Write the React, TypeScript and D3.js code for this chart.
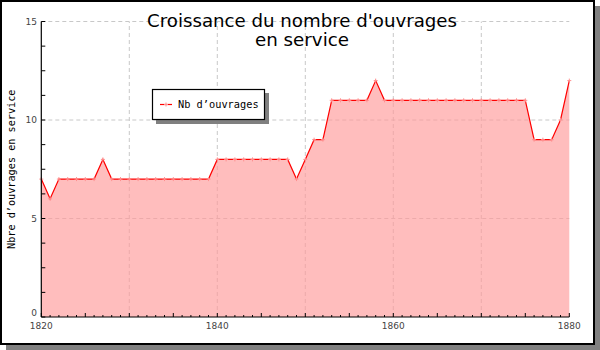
import React from "react";
import * as d3 from "d3";

const years: number[] = d3.range(1820, 1881);
const values: number[] = [
  7, 6, 7, 7, 7, 7, 7, 8, 7, 7,
  7, 7, 7, 7, 7, 7, 7, 7, 7, 7,
  8, 8, 8, 8, 8, 8, 8, 8, 8, 7,
  8, 9, 9, 11, 11, 11, 11, 11, 12, 11,
  11, 11, 11, 11, 11, 11, 11, 11, 11, 11,
  11, 11, 11, 11, 11, 11, 9, 9, 9, 10,
  12,
];
const xTickLabels: number[] = [1820, 1840, 1860, 1880];
const xGrid: number[] = [1830, 1840, 1850, 1860, 1870];
const yTickLabels: number[] = [0, 5, 10, 15];
const titleLines: string[] = ["Croissance du nombre d'ouvrages", "en service"];
const yLabel = "Nbre d\u2019ouvrages en service";
const legendLabel = "Nb d\u2019ouvrages";

export default function App() {
  const W = 600, H = 350;
  const x = d3.scaleLinear().domain([1820, 1880]).range([41.3, 569.3]);
  const y = d3.scaleLinear().domain([0, 15]).range([317, 21.5]);
  const data = years.map((yr, i) => ({ yr, v: values[i] }));
  const area = d3.area<{ yr: number; v: number }>().x(d => x(d.yr)).y0(y(0)).y1(d => y(d.v));
  const line = d3.line<{ yr: number; v: number }>().x(d => x(d.yr)).y(d => y(d.v));
  const yMinor = d3.range(0, 15.01, 1.25);
  const mono = "'DejaVu Sans Mono', monospace";
  const sans = "'DejaVu Sans', sans-serif";
  const titleWidths = [310, 94];
  return (
    <svg width={W} height={H} style={{ position: "absolute", left: 0, top: 0 }}>
      <rect x={0} y={0} width={W} height={H} fill="white" />
      <rect x={6} y={6} width={594} height={344} fill="#808080" />
      <rect x={1} y={1} width={593} height={343} fill="white" stroke="black" strokeWidth={2} />
      {xGrid.map(g => (
        <line key={"gx" + g} x1={x(g)} x2={x(g)} y1={y(0)} y2={y(15)} stroke="#c8c8c8" strokeDasharray="4,3" />
      ))}
      {[5, 10, 15].map(g => (
        <line key={"gy" + g} x1={x(1820)} x2={x(1880)} y1={y(g)} y2={y(g)} stroke="#c8c8c8" strokeDasharray="4,3" />
      ))}
      <path d={area(data) ?? ""} fill="#ff9999" fillOpacity={0.65} />
      <path d={line(data) ?? ""} fill="none" stroke="#ff0000" strokeWidth={1.2} />
      {data.map(d => (
        <g key={"m" + d.yr} stroke="#ff9090" strokeWidth={1}>
          <line x1={x(d.yr) - 2} x2={x(d.yr) + 2} y1={y(d.v)} y2={y(d.v)} />
          <line x1={x(d.yr)} x2={x(d.yr)} y1={y(d.v) - 2} y2={y(d.v) + 2} />
        </g>
      ))}
      <line x1={x(1820)} x2={x(1820)} y1={y(0)} y2={y(15)} stroke="black" strokeWidth={1.2} />
      <line x1={x(1820)} x2={x(1880)} y1={y(0)} y2={y(0)} stroke="black" strokeWidth={1.2} />
      {years.map(yr => (
        <line key={"xt" + yr} x1={x(yr)} x2={x(yr)} y1={y(0)} y2={y(0) - (yr % 5 === 0 ? 4 : 2)} stroke="black" />
      ))}
      {yMinor.map(v => (
        <line key={"yt" + v} x1={x(1820)} x2={x(1820) + 4} y1={y(v)} y2={y(v)} stroke="black" />
      ))}
      {yTickLabels.map(v => (
        <text key={"yl" + v} x={37} y={y(v) + (v === 0 ? -1 : 3)} textAnchor="end" fontFamily={sans} fontSize={9} fill="#444">{v}</text>
      ))}
      {xTickLabels.map(v => (
        <text key={"xl" + v} x={x(v)} y={y(0) + 12} textAnchor="middle" fontFamily={sans} fontSize={9} fill="#444">{v}</text>
      ))}
      {titleLines.map((t, i) => (
        <text key={"t" + i} x={302} y={26.5 + i * 19.5} textAnchor="middle" fontFamily={sans} fontSize={17.5}
          textLength={titleWidths[i]} lengthAdjust="spacingAndGlyphs" fill="black">{t}</text>
      ))}
      <text transform={`translate(15,${y(7.5)}) rotate(-90)`} textAnchor="middle" fontFamily={mono} fontSize={10.2} fill="black">{yLabel}</text>
      <rect x={156} y={93} width={113} height={31} fill="#808080" />
      <rect x={152.5} y={89.5} width={112} height={30} fill="white" stroke="black" strokeWidth={1.2} />
      <line x1={160} x2={172} y1={104.5} y2={104.5} stroke="#ff0000" strokeWidth={1.2} />
      <line x1={164} x2={168} y1={104.5} y2={104.5} stroke="#ff9090" />
      <line x1={166} x2={166} y1={102.5} y2={106.5} stroke="#ff9090" />
      <text x={178} y={108} fontFamily={mono} fontSize={10.3} fill="black">{legendLabel}</text>
    </svg>
  );
}
